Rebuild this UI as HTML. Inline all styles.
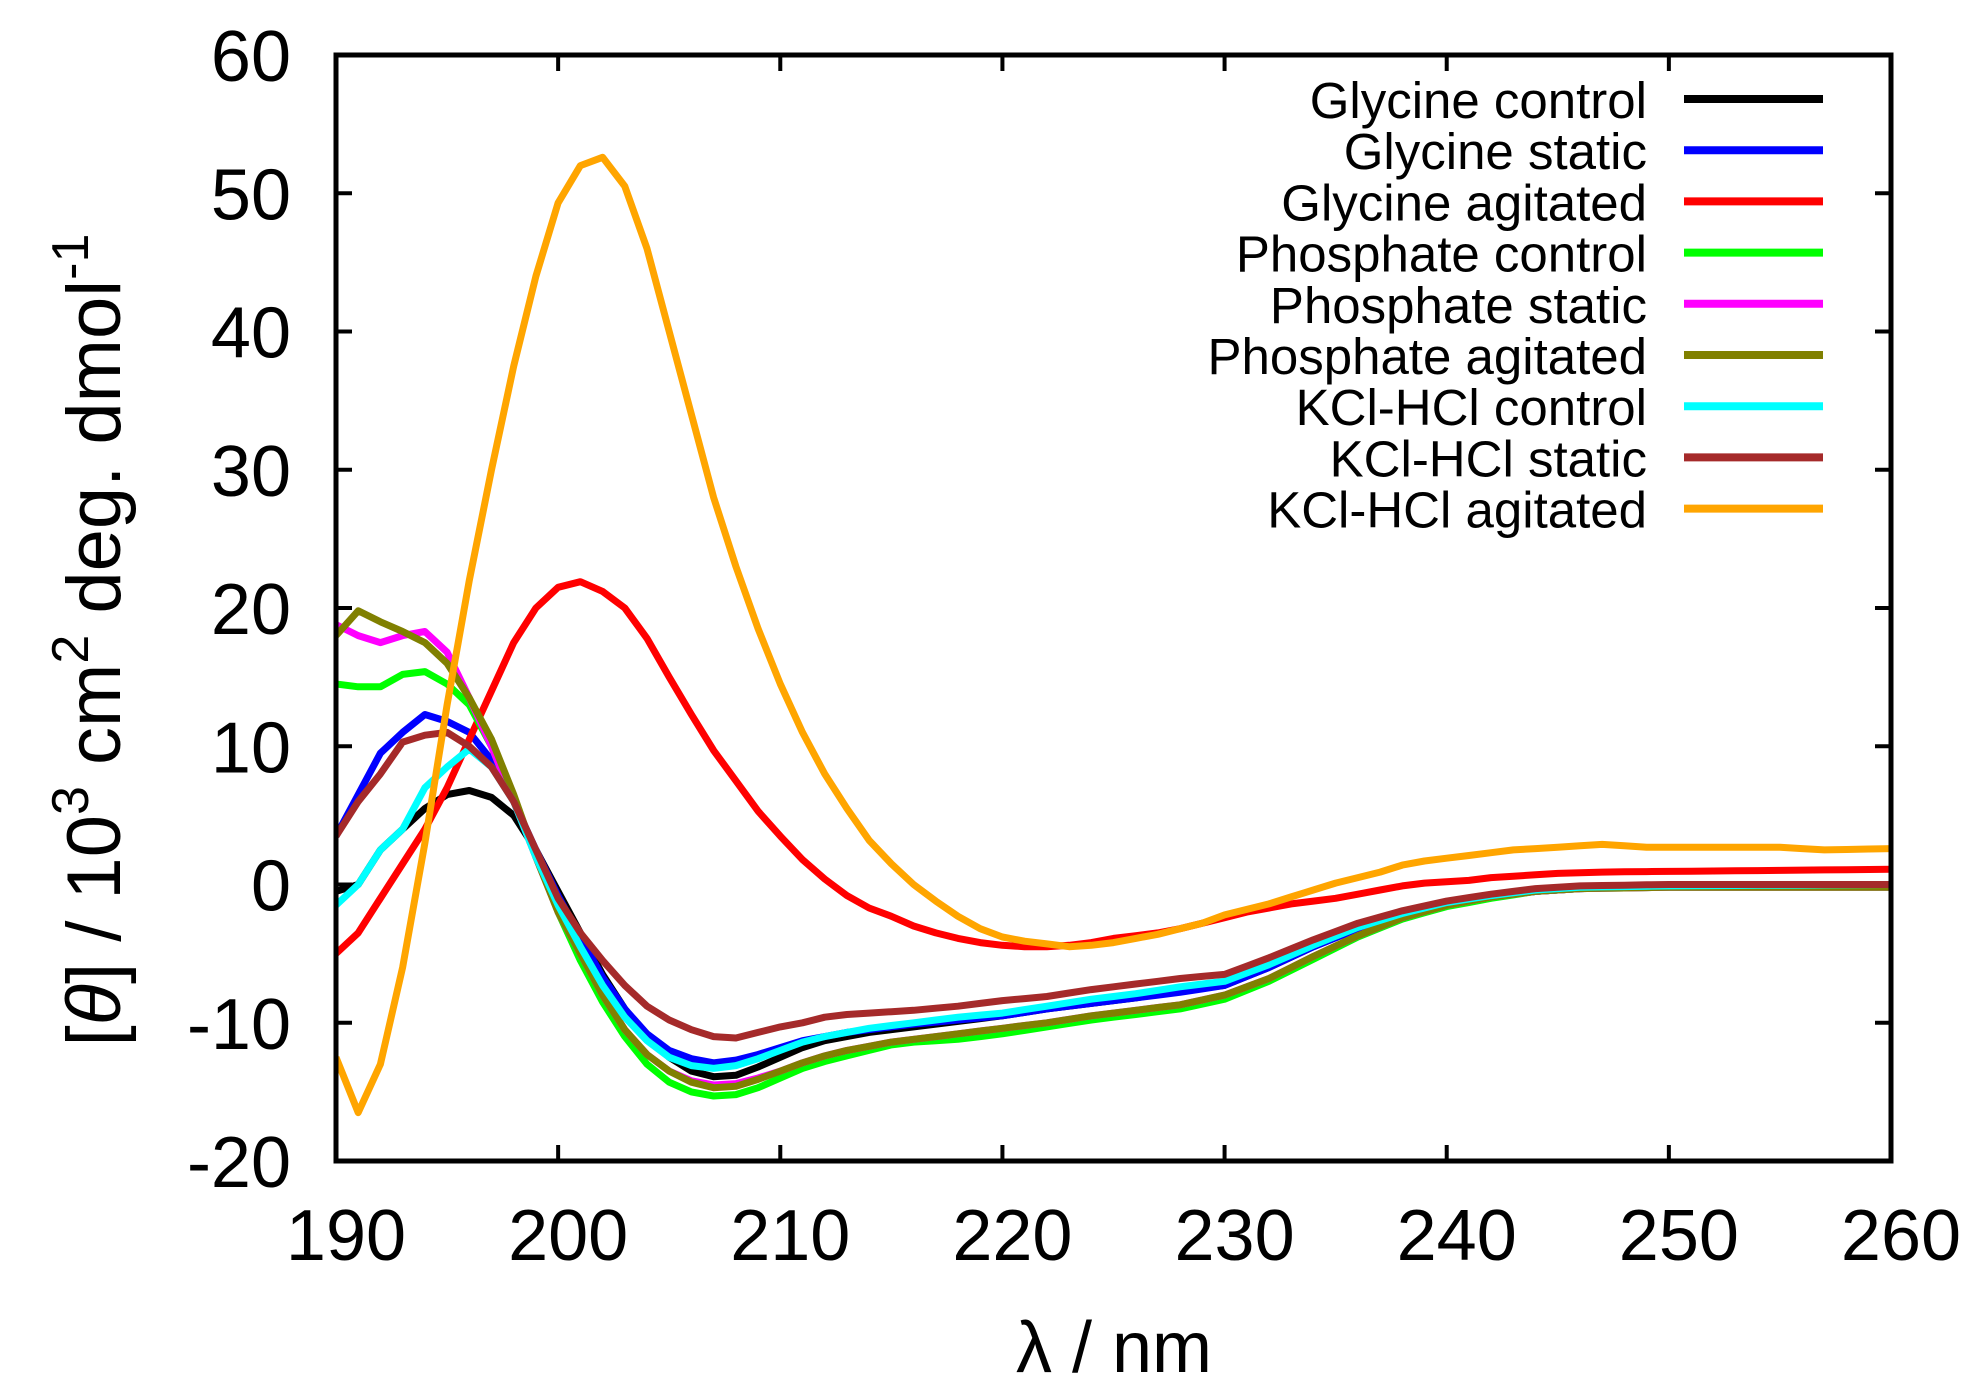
<!DOCTYPE html>
<html><head><meta charset="utf-8"><style>
html,body{margin:0;padding:0;background:#fff}
svg{display:block}
text{font-family:"Liberation Sans",sans-serif;fill:#000}
</style></head><body>
<svg id="s" width="1983" height="1398" viewBox="0 0 1983 1398" xmlns="http://www.w3.org/2000/svg"></svg>
<script>
const S=document.getElementById('s');
const X0=336,X1=1891,Y0=55,Y1=1161;
const fx=x=>X0+(x-190)*(X1-X0)/70, fy=y=>Y0+(60-y)*(Y1-Y0)/80;
let h='';
for(let v=-20;v<=60;v+=10){const y=fy(v);h+=`<line x1="${X0}" y1="${y}" x2="${X0+16}" y2="${y}" stroke="#000" stroke-width="4"/><line x1="${X1}" y1="${y}" x2="${X1-16}" y2="${y}" stroke="#000" stroke-width="4"/><text x="291" y="${y+26}" font-size="72" text-anchor="end">${v}</text>`;}
for(let v=190;v<=260;v+=10){const x=fx(v);h+=`<line x1="${x}" y1="${Y1}" x2="${x}" y2="${Y1-16}" stroke="#000" stroke-width="4"/><line x1="${x}" y1="${Y0}" x2="${x}" y2="${Y0+16}" stroke="#000" stroke-width="4"/><text x="${x+10}" y="1260" font-size="72" text-anchor="middle">${v}</text>`;}
const pts=s=>{const a=s.trim().split(/\s+/).map(p=>p.split(':').map(Number));const o=[];for(let x=190;x<=260;x++){let i=0;while(i<a.length-1&&a[i+1][0]<=x)i++;let y;if(i>=a.length-1)y=a[a.length-1][1];else{const[xa,ya]=a[i],[xb,yb]=a[i+1];y=ya+(yb-ya)*(x-xa)/(xb-xa);}o.push(fx(x).toFixed(1)+','+fy(y).toFixed(1));}return o.join(' ');};
const tail1='210:-12.5 211:-11.8 212:-11.3 213:-11 214:-10.7 215:-10.5 216:-10.3 217:-10.1 218:-9.9 219:-9.7 220:-9.5 222:-9 224:-8.6 226:-8.2 228:-7.7 230:-7.3 232:-6 234:-4.5 236:-3.2 238:-2.2 240:-1.4 242:-0.9 244:-0.5 246:-0.3 250:-0.1 260:0';
const tailO='210:-13.5 211:-12.9 212:-12.4 213:-12 214:-11.7 215:-11.4 216:-11.2 217:-11 218:-10.8 219:-10.6 220:-10.4 222:-10 224:-9.5 226:-9.1 228:-8.7 230:-8 232:-6.8 234:-5.2 236:-3.7 238:-2.4 240:-1.5 242:-0.9 244:-0.5 246:-0.3 250:-0.2 260:-0.2';
const S_=[
['Glycine control','#000','190:-0.5 191:0 192:2.5 193:4 194:5.5 195:6.5 196:6.8 197:6.3 198:5 199:2.5 200:-0.5 201:-3.5 202:-6.5 203:-9 204:-11 205:-12.5 206:-13.5 207:-13.9 208:-13.8 209:-13.2 '+tail1],
['Glycine static','#0000ff','190:3.5 191:6.5 192:9.5 193:11 194:12.3 195:11.8 196:11 197:9 198:6 199:2.5 200:-0.8 201:-3.8 202:-6.7 203:-9 204:-10.8 205:-12 206:-12.6 207:-12.9 208:-12.7 209:-12.3 210:-11.8 211:-11.3 212:-11 213:-10.7 214:-10.5 215:-10.3 216:-10.1 218:-9.8 220:-9.5 222:-9 224:-8.6 226:-8.2 228:-7.8 230:-7.3 232:-6 234:-4.5 236:-3.2 238:-2.2 240:-1.4 242:-0.9 244:-0.5 246:-0.3 250:-0.1 260:0'],
['Glycine agitated','#ff0000','190:-5 191:-3.5 192:-1 193:1.5 194:4 195:7 196:10.5 197:14 198:17.5 199:20 200:21.5 201:21.9 202:21.2 203:20 204:17.8 205:15 206:12.3 207:9.7 208:7.5 209:5.3 210:3.5 211:1.8 212:0.4 213:-0.8 214:-1.7 215:-2.3 216:-3 217:-3.5 218:-3.9 219:-4.2 220:-4.4 221:-4.5 222:-4.5 223:-4.4 224:-4.2 225:-3.9 226:-3.7 227:-3.5 228:-3.2 229:-2.8 230:-2.4 231:-2 232:-1.7 233:-1.4 234:-1.2 235:-1 236:-0.7 237:-0.4 238:-0.1 239:0.1 240:0.2 241:0.3 242:0.5 243:0.6 244:0.7 245:0.8 246:0.85 247:0.9 260:1.1'],
['Phosphate control','#00ff00','190:14.5 191:14.3 192:14.3 193:15.2 194:15.4 195:14.5 196:13 197:10 198:6 199:2 200:-2 201:-5.5 202:-8.5 203:-11 204:-13 205:-14.3 206:-15 207:-15.3 208:-15.2 209:-14.7 210:-14 211:-13.3 212:-12.8 213:-12.4 214:-12 215:-11.6 216:-11.4 217:-11.3 218:-11.2 219:-11 220:-10.8 222:-10.3 224:-9.8 226:-9.4 228:-9 230:-8.3 232:-7 234:-5.4 236:-3.8 238:-2.5 240:-1.6 242:-1 244:-0.5 246:-0.3 250:-0.2 260:-0.2'],
['Phosphate static','#ff00ff','190:18.8 191:18 192:17.5 193:18 194:18.3 195:16.8 196:13.5 197:10 198:6 199:2 200:-2 201:-5 202:-8 203:-10.5 204:-12.3 205:-13.5 206:-14.2 207:-14.5 208:-14.4 209:-14 '+tailO],
['Phosphate agitated','#808000','190:18 191:19.8 192:19 193:18.3 194:17.5 195:16 196:13.5 197:10.5 198:6.5 199:2 200:-2 201:-5 202:-8 203:-10.5 204:-12.3 205:-13.5 206:-14.3 207:-14.7 208:-14.6 209:-14.1 '+tailO],
['KCl-HCl control','#00ffff','190:-1.5 191:0 192:2.5 193:4 194:7 195:8.5 196:9.8 197:8.5 198:6 199:2 200:-1.5 201:-4.5 202:-7.3 203:-9.6 204:-11.3 205:-12.5 206:-13.1 207:-13.3 208:-13.1 209:-12.6 210:-12 211:-11.4 212:-11 213:-10.7 214:-10.4 215:-10.2 216:-10 218:-9.6 220:-9.3 222:-8.8 224:-8.3 226:-7.9 228:-7.4 230:-7 232:-5.8 234:-4.4 236:-3.1 238:-2.1 240:-1.3 242:-0.8 244:-0.4 246:-0.2 250:-0.1 260:0'],
['KCl-HCl static','#a52a2a','190:3.5 191:6 192:8 193:10.3 194:10.8 195:11 196:10 197:8.5 198:6 199:2.5 200:-1 201:-3.5 202:-5.5 203:-7.3 204:-8.8 205:-9.8 206:-10.5 207:-11 208:-11.1 209:-10.7 210:-10.3 211:-10 212:-9.6 213:-9.4 214:-9.3 215:-9.2 216:-9.1 218:-8.8 220:-8.4 222:-8.1 224:-7.6 226:-7.2 228:-6.8 230:-6.5 232:-5.3 234:-4 236:-2.8 238:-1.9 240:-1.2 242:-0.7 244:-0.3 246:-0.1 250:0 260:0'],
['KCl-HCl agitated','#ffa500','190:-12.5 191:-16.5 192:-13 193:-6 194:3 195:13 196:22 197:30 198:37.5 199:44 200:49.3 201:52 202:52.6 203:50.5 204:46 205:40 206:34 207:28 208:23 209:18.5 210:14.5 211:11 212:8 213:5.5 214:3.2 215:1.5 216:0 217:-1.2 218:-2.3 219:-3.2 220:-3.8 221:-4.1 222:-4.3 223:-4.5 224:-4.4 225:-4.2 226:-3.9 227:-3.6 228:-3.2 229:-2.8 230:-2.2 231:-1.8 232:-1.4 233:-0.9 234:-0.4 235:0.1 236:0.5 237:0.9 238:1.4 239:1.7 240:1.9 241:2.1 242:2.3 243:2.5 244:2.6 245:2.7 246:2.8 247:2.9 248:2.8 249:2.7 255:2.7 257:2.5 260:2.6']
];
h+=`<clipPath id="c"><rect x="${X0}" y="${Y0}" width="${X1-X0}" height="${Y1-Y0}"/></clipPath>`;
S_.forEach((s,i)=>{h+=`<polyline clip-path="url(#c)" points="${pts(s[2])}" fill="none" stroke="${s[1]}" stroke-width="7" stroke-linejoin="round"/>`;
const y=99+51.2*i;h+=`<text x="1647" y="${y+19}" font-size="51" text-anchor="end">${s[0]}</text><line x1="1684" y1="${y}" x2="1823" y2="${y}" stroke="${s[1]}" stroke-width="8"/>`;});
h+=`<rect x="${X0}" y="${Y0}" width="${X1-X0}" height="${Y1-Y0}" fill="none" stroke="#000" stroke-width="5"/>`;
h+=`<text x="1114" y="1372" font-size="72" text-anchor="middle">λ / nm</text>`;
h+=`<text transform="translate(120,640) rotate(-90)" font-size="76" text-anchor="middle">[<tspan font-style="italic">θ</tspan>] / 10<tspan font-size="52" dy="-32">3</tspan><tspan dy="32"> cm</tspan><tspan font-size="52" dy="-32">2</tspan><tspan dy="32"> deg. dmol</tspan><tspan font-size="52" dy="-32">-1</tspan></text>`;
S.innerHTML=h;
</script>
</body></html>
